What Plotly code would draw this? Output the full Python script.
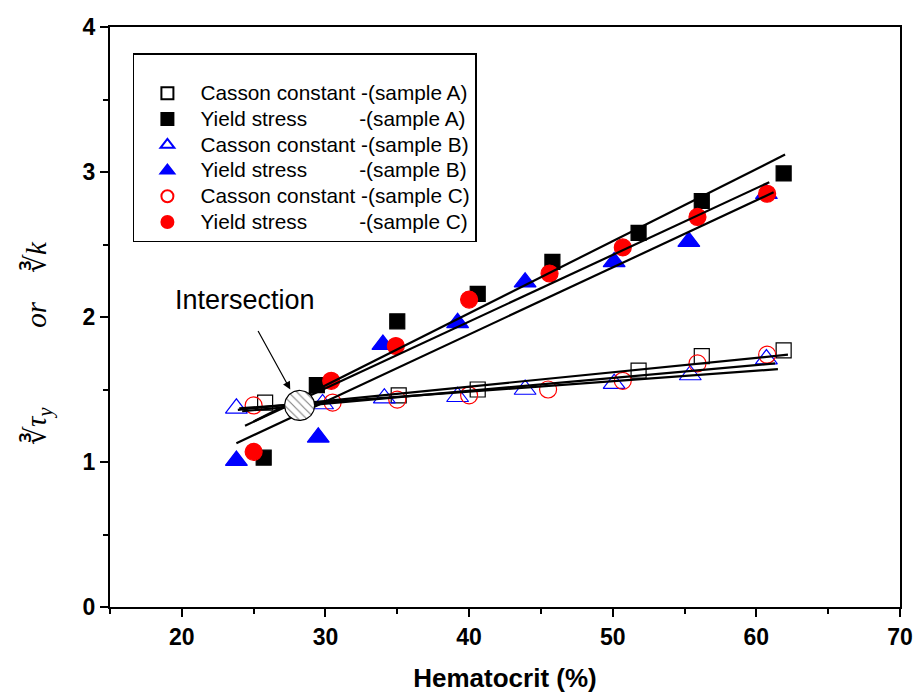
import numpy as np
import plotly.graph_objects as go

# Hematocrit (%) and cube-root values for each sample
hct_casson_a = [25.8, 35.1, 40.6, 51.8, 56.2, 61.9]
casson_a = [1.41, 1.46, 1.50, 1.63, 1.73, 1.77]
hct_yield_a = [25.7, 29.4, 35.0, 40.6, 45.8, 51.8, 56.2, 61.9]
yield_a = [1.03, 1.53, 1.97, 2.16, 2.38, 2.58, 2.80, 2.99]

hct_casson_b = [23.8, 29.8, 34.1, 39.2, 43.9, 50.1, 55.4, 60.7]
casson_b = [1.37, 1.40, 1.44, 1.45, 1.50, 1.54, 1.60, 1.71]
hct_yield_b = [23.8, 29.5, 34.0, 39.2, 43.9, 50.1, 55.3, 60.7]
yield_b = [1.01, 1.17, 1.81, 1.96, 2.24, 2.38, 2.52, 2.85]

hct_casson_c = [25.0, 30.5, 35.0, 40.0, 45.5, 50.7, 55.9, 60.75]
casson_c = [1.39, 1.41, 1.43, 1.46, 1.50, 1.56, 1.68, 1.74]
hct_yield_c = [25.0, 30.4, 34.9, 40.0, 45.6, 50.7, 55.9, 60.75]
yield_c = [1.07, 1.56, 1.80, 2.12, 2.30, 2.48, 2.69, 2.85]

# Linear fit lines: (x start, x end), (y start, y end)
fit_casson_a = ([23.9, 62.2], [1.36, 1.74])
fit_casson_b = ([24.0, 61.5], [1.37, 1.64])
fit_casson_c = ([24.2, 61.3], [1.35, 1.68])
fit_yield_a = ([25.0, 62.0], [1.28, 3.12])
fit_yield_b = ([23.8, 61.2], [1.13, 2.86])
fit_yield_c = ([24.4, 60.9], [1.25, 2.93])

intersection_hct = 28.2
intersection_val = 1.39

x_ticks = [20, 30, 40, 50, 60, 70]
y_ticks = [0, 1, 2, 3, 4]
x_range = [15, 70]
y_range = [0, 4]

LEFT, RIGHT, TOP, BOTTOM = 110, 16, 27, 86
W, H = 916, 693

sans = "Liberation Sans, Arial, sans-serif"
serif = "Liberation Serif, Times New Roman, serif"

pad = "\u00a0" * 9


def legend_text(s):
    return '<span style="font-size:20.8px">' + s + "</span>"


series = [
    ("Casson constant -(sample A)", hct_casson_a, casson_a, "square-open", "black", 15),
    ("Yield stress" + pad + "-(sample A)", hct_yield_a, yield_a, "square", "black", 15),
    ("Casson constant -(sample B)", hct_casson_b, casson_b, "triangle-up-open", "blue", 19),
    ("Yield stress" + pad + "-(sample B)", hct_yield_b, yield_b, "triangle-up", "blue", 19),
    ("Casson constant -(sample C)", hct_casson_c, casson_c, "circle-open", "red", 17),
    ("Yield stress" + pad + "-(sample C)", hct_yield_c, yield_c, "circle", "red", 17),
]

fig = go.Figure()

for name, xs, ys, sym, col, size in series:
    fig.add_trace(go.Scatter(
        x=xs, y=ys, mode="markers", name=legend_text(name),
        marker=dict(symbol=sym, color=col, size=size,
                    line=dict(color=col, width=1.2)),
    ))

for fx, fy in [fit_casson_a, fit_casson_b, fit_casson_c,
               fit_yield_a, fit_yield_b, fit_yield_c]:
    fig.add_trace(go.Scatter(
        x=fx, y=fy, mode="lines", showlegend=False, hoverinfo="skip",
        line=dict(color="black", width=2.2),
    ))

# Hatched disc marking the intersection point (radius given in pixels)
plot_w = W - LEFT - RIGHT
plot_h = H - TOP - BOTTOM
r_px = 15
rx = r_px * (x_range[1] - x_range[0]) / plot_w
ry = r_px * (y_range[1] - y_range[0]) / plot_h
t = np.linspace(0, 2 * np.pi, 80)
fig.add_trace(go.Scatter(
    x=intersection_hct + rx * np.cos(t),
    y=intersection_val + ry * np.sin(t),
    mode="lines", fill="toself", showlegend=False, hoverinfo="skip",
    fillcolor="white",
    fillpattern=dict(shape="\\", fgcolor="black", bgcolor="white",
                     size=6, solidity=0.18),
    line=dict(color="black", width=1.2),
))

fig.add_annotation(
    x=27.55, y=1.50, xref="x", yref="y", text="",
    showarrow=True, arrowhead=2, arrowsize=1.3, arrowwidth=1.2,
    arrowcolor="black", ax=-33, ay=-60,
)
fig.add_annotation(
    x=24.4, y=2.12, xref="x", yref="y", text="Intersection",
    showarrow=False, font=dict(family=sans, size=27, color="black"),
)

# Rotated y-axis label
fig.add_annotation(
    x=-0.118, y=0.455, xref="paper", yref="paper",
    text="∛<i>τ</i><sub><i>y</i></sub>" + "\u00a0" * 11 + "<i>or</i>" + "\u00a0" * 4 + "∛<i>k</i>",
    textangle=-90, showarrow=False,
    font=dict(family=serif, size=29, color="black"),
)

axis_common = dict(
    showline=True, linecolor="black", linewidth=2, mirror=True,
    showgrid=False, zeroline=False, ticks="outside", ticklen=8,
    tickwidth=2, tickcolor="black", automargin=False,
    tickfont=dict(family=sans, size=23, color="black", weight="bold"),
)

fig.update_layout(
    width=W, height=H,
    margin=dict(l=LEFT, r=RIGHT, t=TOP, b=BOTTOM, autoexpand=False),
    plot_bgcolor="white", paper_bgcolor="white",
    xaxis=dict(
        range=x_range, tickvals=x_ticks,
        minor=dict(dtick=5, tick0=15, ticks="outside", ticklen=5,
                   tickwidth=2, tickcolor="black"),
        title=dict(text="Hematocrit (%)", standoff=20,
                   font=dict(family=sans, size=26, color="black", weight="bold")),
        **axis_common,
    ),
    yaxis=dict(
        range=y_range, tickvals=y_ticks,
        minor=dict(dtick=0.5, tick0=0, ticks="outside", ticklen=5,
                   tickwidth=2, tickcolor="black"),
        **axis_common,
    ),
    legend=dict(
        x=0.029, y=0.955, xanchor="left", yanchor="top",
        bgcolor="white", bordercolor="black", borderwidth=1.5,
        font=dict(family=sans, size=17.5, color="black"),
        title=dict(text=" ", font=dict(family=sans, size=16)),
        itemsizing="constant", itemwidth=56,
    ),
    showlegend=True,
)

fig.write_html("out.html")
